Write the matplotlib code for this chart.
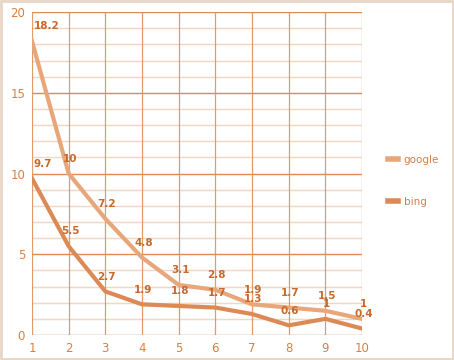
import matplotlib
matplotlib.use("Agg")
import matplotlib.pyplot as plt
from matplotlib.patches import Rectangle

x = [1, 2, 3, 4, 5, 6, 7, 8, 9, 10]
google = [18.2, 10, 7.2, 4.8, 3.1, 2.8, 1.9, 1.7, 1.5, 1]
bing = [9.7, 5.5, 2.7, 1.9, 1.8, 1.7, 1.3, 0.6, 1, 0.4]
series_names = ["google", "bing"]
yticks = [0, 5, 10, 15, 20]

c_google = "#e8a77a"
c_bing = "#dc8a55"
c_text = "#c8692c"
c_tick = "#d9803f"
c_major = "#e08a50"
c_minor = "#f1d6c3"

fig = plt.figure(figsize=(4.54, 3.6), dpi=100)
fig.patch.set_facecolor("white")
fig.add_artist(Rectangle((0.002, 0.003), 0.996, 0.994, transform=fig.transFigure,
                         fill=False, edgecolor="#e6d6c8", linewidth=2))
ax = fig.add_axes([0.0705, 0.0694, 0.727, 0.897])
ax.set_xlim(1, 10)
ax.set_ylim(0, 20)

for v in range(0, 21):
    if v % 5 == 0:
        ax.axhline(v, color=c_major, lw=1.0, zorder=1)
    else:
        ax.axhline(v, color=c_minor, lw=1.0, zorder=1)
for v in x:
    ax.axvline(v, color=c_major, lw=0.9, alpha=0.85, zorder=1)

ax.plot(x, google, color=c_google, lw=3.0, zorder=3, label=series_names[0])
ax.plot(x, bing, color=c_bing, lw=3.0, zorder=3, label=series_names[1])

for xi, v in zip(x, google):
    ax.annotate(f"{v:g}", (xi, v), xytext=(1, 7), textcoords="offset points",
                ha="left" if xi == 1 else "center", va="bottom", fontsize=7.5,
                fontweight="bold", color=c_text, zorder=4)
for xi, v in zip(x, bing):
    ax.annotate(f"{v:g}", (xi, v), xytext=(1, 7), textcoords="offset points",
                ha="left" if xi == 1 else "center", va="bottom", fontsize=7.5,
                fontweight="bold", color=c_text, zorder=4)

for s in ax.spines.values():
    s.set_visible(False)
ax.set_xticks(x)
ax.set_yticks(yticks)
ax.tick_params(length=0, colors=c_tick, labelsize=8.5, pad=5)
ax.set_facecolor("white")

leg = ax.legend(loc="center left", bbox_to_anchor=(1.05, 0.477), frameon=False,
                handlelength=1.0, labelspacing=3.1, fontsize=7.5, labelcolor="#d08050",
                handletextpad=0.5)
for line in leg.get_lines():
    line.set_linewidth(4)

fig.savefig("out.png", dpi=100)
